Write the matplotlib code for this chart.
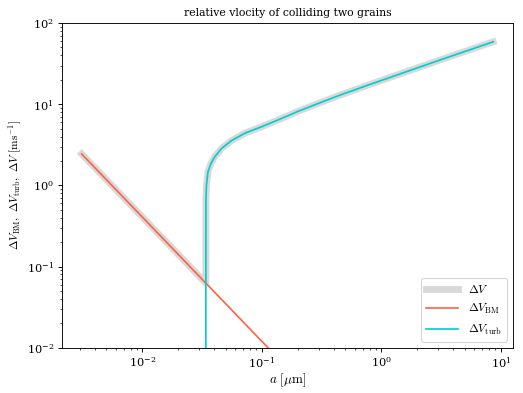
import matplotlib
matplotlib.use("Agg")
import matplotlib.pyplot as plt

plt.rcParams['font.family'] = ['DejaVu Serif']
plt.rcParams['mathtext.fontset'] = 'cm'

# Brownian-motion relative velocity
a_bm = [3.11e-3, 0.0340, 0.20]
v_bm = [2.44, 0.0625, 0.00414]

# turbulence-driven relative velocity
a_turb = [0.0340, 0.03405, 0.03443, 0.03542, 0.03752, 0.04055, 0.04613,
          0.05591, 0.07228, 0.0996, 0.1416, 0.20, 0.30, 0.450, 0.80,
          1.428, 3.08, 5.5, 8.61]
v_turb = [1e-3, 0.66, 1.01, 1.46, 1.86, 2.27, 2.86,
          3.57, 4.40, 5.28, 6.55, 8.15, 10.3, 12.95, 17.5,
          23.6, 35.0, 46.9, 58.8]

# total: BM part up to the threshold, then the turbulence-dominated part
a_tot = a_bm[:2] + a_turb[1:]
v_tot = v_bm[:2] + v_turb[1:]

DPI = 81.72
fig = plt.figure(figsize=(523 / DPI, 393 / DPI), dpi=DPI)
ax = fig.add_axes([0.1185, 0.1153, 0.8623, 0.826])

ax.plot(a_tot, v_tot, color='#d9d9d9', lw=6, label=r'$\Delta V$')
ax.plot(a_bm, v_bm, color='#ff6347', lw=1.5, label=r'$\Delta V_{\rm BM}$')
ax.plot(a_turb, v_turb, color='#00ced1', lw=1.5, label=r'$\Delta V_{\rm turb}$')

ax.set_xscale('log')
ax.set_yscale('log')
ax.set_xlim(2.13e-3, 12.6)
ax.set_ylim(1e-2, 1e2)

ax.set_title('relative vlocity of colliding two grains', fontsize=9.6)
ax.set_xlabel(r'$a\ [\mathrm{\mu m}]$', fontsize=11.5, labelpad=1.5)
ax.set_ylabel(r'$\Delta V_{\rm BM},\ \Delta V_{\rm turb},\ \Delta V\ [\mathrm{ms^{-1}}]$',
              fontsize=10, labelpad=2.5)
ax.tick_params(labelsize=10)
ax.legend(loc='lower right', fontsize=10.5, handlelength=2.7, labelspacing=0.55)

fig.savefig('out.png', dpi=DPI)
